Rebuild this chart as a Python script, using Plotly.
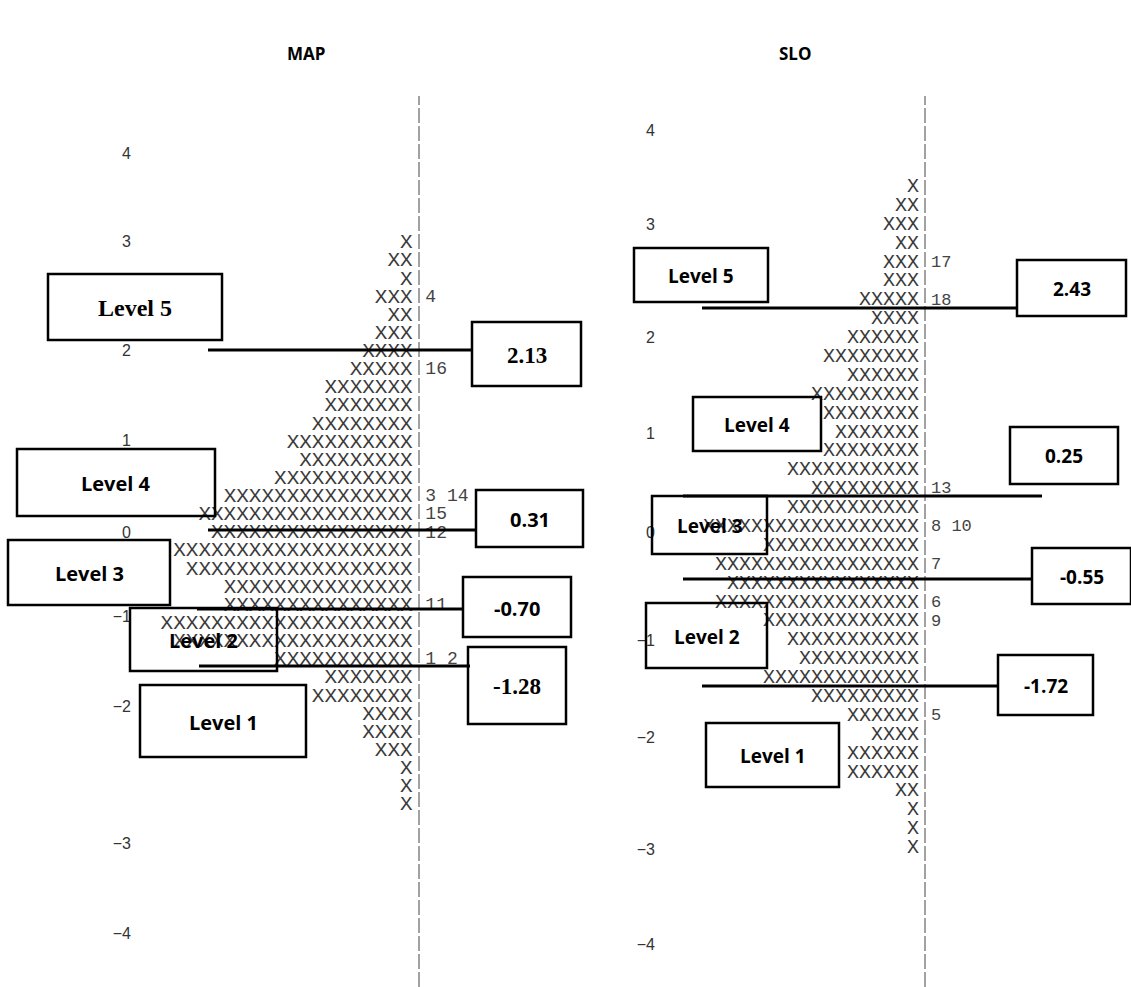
import plotly.graph_objects as go

W, H = 1131, 987

# ---------------- data ----------------
# MAP panel: number of persons (X) per row, top row to bottom row
map_counts = [1, 2, 1, 3, 2, 3, 4, 5, 7, 7, 8, 10, 9, 11, 15, 17, 16, 19, 18, 15,
              15, 20, 19, 11, 7, 8, 4, 4, 3, 1, 1, 1]
map_items = ["", "", "", "4", "", "", "", "16", "", "", "", "", "", "", "3 14", "15",
             "12", "", "", "", "11", "", "", "1 2", "", "", "", "", "", "", "", ""]
map_tick_text = ["4", "3", "2", "1", "0", "\u22121", "\u22122", "\u22123", "\u22124"]
map_tick_rows = [-4.96, -0.11, 5.90, 10.87, 15.94, 20.57, 25.54, 33.09, 38.06]
map_cuts = ["2.13", "0.31", "-0.70", "-1.28"]
map_levels = ["Level 5", "Level 4", "Level 3", "Level 2", "Level 1"]

# SLO panel
slo_counts = [1, 2, 3, 2, 3, 3, 5, 4, 6, 8, 6, 9, 8, 7, 8, 11, 9, 11, 18, 13, 17, 16,
              17, 13, 11, 10, 13, 9, 6, 4, 6, 6, 2, 1, 1, 1]
slo_items = ["", "", "", "", "17", "", "18", "", "", "", "", "", "", "", "", "", "13",
             "", "8 10", "", "7", "", "6", "9", "", "", "", "", "5", "", "", "", "", "",
             "", ""]
slo_tick_text = ["4", "3", "2", "1", "0", "\u22121", "\u22122", "\u22123", "\u22124"]
slo_tick_rows = [-3.02, 1.96, 7.94, 13.02, 18.26, 24.0, 29.12, 35.05, 40.08]
slo_cuts = ["2.43", "0.25", "-0.55", "-1.72"]
slo_levels = ["Level 5", "Level 4", "Level 3", "Level 2", "Level 1"]

# ---------------- layout helpers ----------------
def px(x):
    return x / W


def py(y):
    return 1 - y / H


MONO = "Liberation Mono"
SANS = "Open Sans"
SERIF = "Liberation Serif"

fig = go.Figure()

panels = [
    dict(counts=map_counts, items=map_items, xa="x", ya="y", fs=21),
    dict(counts=slo_counts, items=slo_items, xa="x2", ya="y2", fs=20),
]
for p in panels:
    rows = list(range(len(p["counts"])))
    fig.add_trace(go.Scatter(
        x=[-0.5] * len(rows), y=rows, text=["X" * c for c in p["counts"]],
        mode="text", textposition="middle left",
        textfont=dict(family=MONO, size=p["fs"], color="#3a3a3a"),
        xaxis=p["xa"], yaxis=p["ya"], hoverinfo="skip", cliponaxis=False,
        showlegend=False))
    fig.add_trace(go.Scatter(
        x=[0.5] * len(rows), y=rows, text=p["items"],
        mode="text", textposition="middle right",
        textfont=dict(family=MONO, size=p["fs"] - 3, color="#444"),
        xaxis=p["xa"], yaxis=p["ya"], hoverinfo="skip", cliponaxis=False,
        showlegend=False))

# axes: x in character cells (0 = centre of the '|' column), y in rows
map_cw, map_rh, map_line, map_top = 12.67, 18.13, 419, 243
slo_cw, slo_rh, slo_line, slo_top = 12.0, 18.89, 925, 187
split = 565

tickfont = dict(family="Liberation Sans", size=16, color="#333")
fig.update_layout(
    width=W, height=H, margin=dict(l=0, r=0, t=0, b=0),
    paper_bgcolor="white", plot_bgcolor="white",
    xaxis=dict(domain=[0, split / W],
               range=[-map_line / map_cw, (split - map_line) / map_cw],
               visible=False, fixedrange=True),
    yaxis=dict(domain=[0, 1], range=[(H - map_top) / map_rh, -map_top / map_rh],
               anchor="free", position=px(131), showgrid=False, zeroline=False,
               showline=False, ticks="", tickvals=map_tick_rows,
               ticktext=map_tick_text, tickfont=tickfont),
    xaxis2=dict(domain=[split / W, 1],
                range=[-(slo_line - split) / slo_cw, (W - slo_line) / slo_cw],
                visible=False, fixedrange=True),
    yaxis2=dict(domain=[0, 1], range=[(H - slo_top) / slo_rh, -slo_top / slo_rh],
                anchor="free", position=px(655), showgrid=False, zeroline=False,
                showline=False, ticks="", tickvals=slo_tick_rows,
                ticktext=slo_tick_text, tickfont=tickfont),
)

shapes = []
annotations = []

# dashed vertical '|' columns
for xa in ["x", "x2"]:
    shapes.append(dict(type="line", xref=xa, yref="paper", x0=0, x1=0,
                       y0=0, y1=py(96), line=dict(color="#444", width=1,
                                                  dash="15px,3px")))


def label(x, y, text, family, size):
    annotations.append(dict(text="<b>%s</b>" % text, xref="paper", yref="paper",
                            x=px(x), y=py(y), xanchor="center", yanchor="middle",
                            showarrow=False,
                            font=dict(family=family, size=size, color="black")))


# titles
label(306, 54, "MAP", SANS, 17)
label(795, 54, "SLO", SANS, 17)


def box(x0, y0, x1, y1, text, family, size):
    shapes.append(dict(type="rect", xref="paper", yref="paper",
                       x0=px(x0), x1=px(x1), y0=py(y1), y1=py(y0),
                       line=dict(color="black", width=2.5),
                       fillcolor="rgba(0,0,0,0)"))
    label((x0 + x1) / 2, (y0 + y1) / 2 + 1, text, family, size)


def hline(x0, x1, y):
    shapes.append(dict(type="line", xref="paper", yref="paper",
                       x0=px(x0), x1=px(x1), y0=py(y), y1=py(y),
                       line=dict(color="black", width=3)))


# MAP: cut lines and boxes
map_cut_geo = [  # line x0, x1, y ; box x0, y0, x1, y1 ; font
    ((208, 472, 350), (472, 322, 581, 386), SERIF, 23),
    ((208, 476, 530), (476, 490, 583, 547), SANS, 20),
    ((197, 463, 609), (463, 577, 571, 637), SANS, 20),
    ((199, 470, 666), (468, 647, 566, 724), SERIF, 23),
]
for lab, (ln, bx, fam, sz) in zip(map_cuts, map_cut_geo):
    hline(*ln)
    box(*bx, lab, fam, sz)

map_level_geo = [
    ((48, 274, 222, 340), SERIF, 24),
    ((17, 449, 215, 516), SANS, 20),
    ((8, 540, 170, 605), SANS, 20),
    ((130, 608, 277, 671), SANS, 20),
    ((140, 685, 306, 757), SANS, 20),
]
for lab, (bx, fam, sz) in zip(map_levels, map_level_geo):
    box(*bx, lab, fam, sz)

# SLO: cut lines and boxes
slo_cut_geo = [
    ((702, 1017, 308), (1017, 260, 1126, 316)),
    ((683, 1042, 496), (1010, 427, 1118, 484)),
    ((683, 1032, 579), (1032, 548, 1131, 604)),
    ((702, 998, 686), (998, 655, 1093, 715)),
]
for lab, (ln, bx) in zip(slo_cuts, slo_cut_geo):
    hline(*ln)
    box(*bx, lab, SANS, 19)

slo_level_geo = [
    (634, 248, 768, 302),
    (693, 397, 821, 451),
    (652, 496, 767, 554),
    (646, 603, 767, 668),
    (706, 723, 839, 787),
]
for lab, bx in zip(slo_levels, slo_level_geo):
    box(*bx, lab, SANS, 19)

fig.update_layout(shapes=shapes, annotations=annotations)
fig.write_html(
    "out.html",
    config={"displayModeBar": False},
    post_script="document.body.style.margin='0';document.body.style.overflow='hidden';",
)
